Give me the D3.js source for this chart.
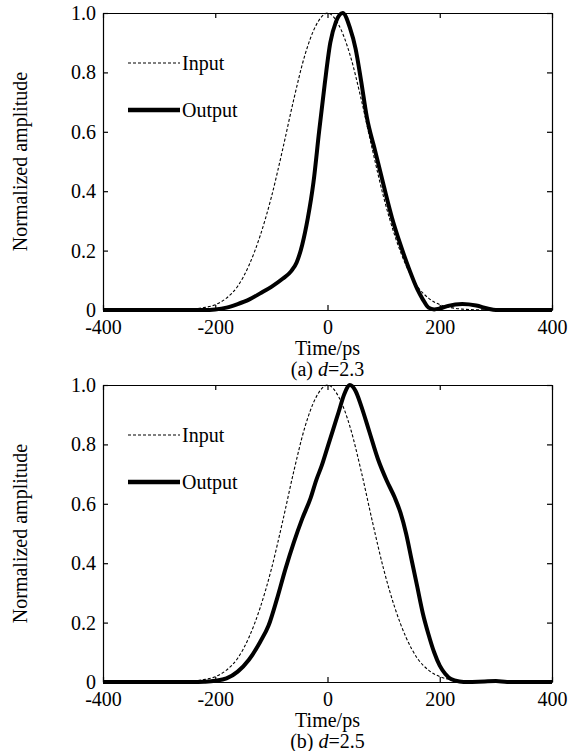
<!DOCTYPE html>
<html>
<head>
<meta charset="utf-8">
<script src="https://cdn.jsdelivr.net/npm/d3@7"></script>
<style>
  body { margin: 0; background: #fff; }
  svg text { font-family: "Liberation Serif", "DejaVu Serif", serif; fill: #000; }
</style>
</head>
<body>
<div class="container"></div>
<script>
var timeTicks = [-400, -200, 0, 200, 400];
var ampTicks = [0, 0.2, 0.4, 0.6, 0.8, 1.0];

// input pulse (same in both panels)
var inputTime = [-400, -260, -240, -220, -200, -180, -160, -140, -120, -100, -80, -60, -40, -20, 0,
                 20, 40, 60, 80, 100, 120, 140, 160, 180, 200, 220, 240, 260, 400];
var inputAmp = [0, 0.001, 0.003, 0.008, 0.018, 0.04, 0.08, 0.15, 0.25, 0.38, 0.54, 0.71, 0.86, 0.96, 1.0,
                0.96, 0.86, 0.71, 0.54, 0.38, 0.25, 0.15, 0.08, 0.04, 0.018, 0.008, 0.003, 0.001, 0];

// (a) d=2.3 output
var outTimeA = [-400, -220, -200, -180, -160, -140, -120, -100, -80, -65, -55, -45, -35, -25, -15, -5, 5, 15, 27,
                40, 50, 60, 70, 85, 100, 115, 130, 145, 160, 170, 180, 190, 200, 215, 240, 265, 285, 300, 400];
var outAmpA = [0, 0, 0.002, 0.008, 0.02, 0.035, 0.056, 0.078, 0.105, 0.13, 0.16, 0.22, 0.31, 0.43, 0.6, 0.76, 0.9, 0.97, 1.0,
               0.95, 0.88, 0.77, 0.65, 0.535, 0.42, 0.31, 0.22, 0.14, 0.07, 0.035, 0.008, 0.002, 0.005, 0.014, 0.02, 0.015, 0.005, 0, 0];

// (b) d=2.5 output
var outTimeB = [-400, -240, -220, -200, -180, -160, -140, -120, -105, -90, -75, -60, -45, -30, -20, -10, 0, 10, 20, 30, 40,
                50, 60, 75, 90, 105, 120, 130, 140, 150, 160, 170, 180, 190, 200, 210, 220, 235, 250, 280, 300, 320, 400];
var outAmpB = [0, 0, 0.001, 0.004, 0.012, 0.035, 0.075, 0.135, 0.19, 0.28, 0.38, 0.47, 0.55, 0.62, 0.68, 0.73, 0.79, 0.85, 0.91, 0.97, 1.0,
               0.98, 0.93, 0.84, 0.75, 0.68, 0.62, 0.57, 0.5, 0.41, 0.32, 0.23, 0.16, 0.1, 0.055, 0.027, 0.01, 0.002, 0, 0.002, 0.003, 0, 0];

var svg = d3.select(".container")
  .append("svg")
    .attr("width", 580)
    .attr("height", 751)
    .attr("font-family", "Liberation Serif");

function buildPanel(top, outTime, outAmp, letter, dval) {
  var left = 103, right = 552, height = 297;
  var x = d3.scaleLinear().domain([-400, 400]).range([left, right]);
  var y = d3.scaleLinear().domain([0, 1]).range([top + height, top]);
  var g = svg.append("g");
  var fmtY = function(d) { return d === 0 ? "0" : d.toFixed(1); };
  var fmtX = function(d) { return String(d); };

  // axes, ticks pointing inwards on all four sides
  g.append("g")
    .attr("transform", "translate(0," + (top + height) + ")")
    .call(d3.axisBottom(x).tickValues(timeTicks).tickSizeInner(-5).tickSizeOuter(0).tickPadding(10).tickFormat(fmtX));
  g.append("g")
    .attr("transform", "translate(0," + top + ")")
    .call(d3.axisTop(x).tickValues(timeTicks).tickSizeInner(-5).tickSizeOuter(0).tickFormat(""));
  g.append("g")
    .attr("transform", "translate(" + left + ",0)")
    .call(d3.axisLeft(y).tickValues(ampTicks).tickSizeInner(-5).tickSizeOuter(0).tickPadding(7).tickFormat(fmtY));
  g.append("g")
    .attr("transform", "translate(" + right + ",0)")
    .call(d3.axisRight(y).tickValues(ampTicks).tickSizeInner(-5).tickSizeOuter(0).tickFormat(""));
  g.selectAll("g").attr("font-family", null);
  g.selectAll(".domain").attr("stroke", "#000").attr("stroke-width", 1.2);
  g.selectAll(".tick line").attr("stroke", "#000").attr("stroke-width", 1.2);
  g.selectAll(".tick text")
    .style("font-size", "20px")
    .attr("fill", "#000");

  var line = d3.line()
    .x(function(d) { return x(d[0]); })
    .y(function(d) { return y(d[1]); })
    .curve(d3.curveMonotoneX);

  g.append("path")
    .datum(d3.zip(inputTime, inputAmp))
    .attr("d", line)
    .attr("fill", "none")
    .attr("stroke", "#000")
    .attr("stroke-width", 1.1)
    .attr("stroke-dasharray", "3,2");

  g.append("path")
    .datum(d3.zip(outTime, outAmp))
    .attr("d", line)
    .attr("fill", "none")
    .attr("stroke", "#000")
    .attr("stroke-width", 4)
    .attr("stroke-linejoin", "round");

  // legend
  g.append("line")
    .attr("x1", 128).attr("x2", 180)
    .attr("y1", top + 50).attr("y2", top + 50)
    .attr("stroke", "#000")
    .attr("stroke-width", 1.1)
    .attr("stroke-dasharray", "3,2");
  g.append("text")
    .attr("x", 182).attr("y", top + 57)
    .style("font-size", "20px")
    .text("Input");
  g.append("line")
    .attr("x1", 128).attr("x2", 180)
    .attr("y1", top + 97).attr("y2", top + 97)
    .attr("stroke", "#000")
    .attr("stroke-width", 4.5);
  g.append("text")
    .attr("x", 182).attr("y", top + 104)
    .style("font-size", "20px")
    .text("Output");

  // labels
  g.append("text")
    .attr("transform", "translate(27," + (top + height / 2) + ")rotate(-90)")
    .attr("text-anchor", "middle")
    .style("font-size", "20px")
    .text("Normalized amplitude");
  g.append("text")
    .attr("x", (left + right) / 2)
    .attr("y", top + height + 45)
    .attr("text-anchor", "middle")
    .style("font-size", "20px")
    .text("Time/ps");
  var cap = g.append("text")
    .attr("x", (left + right) / 2)
    .attr("y", top + height + 66)
    .attr("text-anchor", "middle")
    .style("font-size", "20px");
  cap.append("tspan").text("(" + letter + ") ");
  cap.append("tspan").style("font-style", "italic").text("d");
  cap.append("tspan").text("=" + dval);
}

buildPanel(13, outTimeA, outAmpA, "a", "2.3");
buildPanel(385, outTimeB, outAmpB, "b", "2.5");
</script>
</body>
</html>
